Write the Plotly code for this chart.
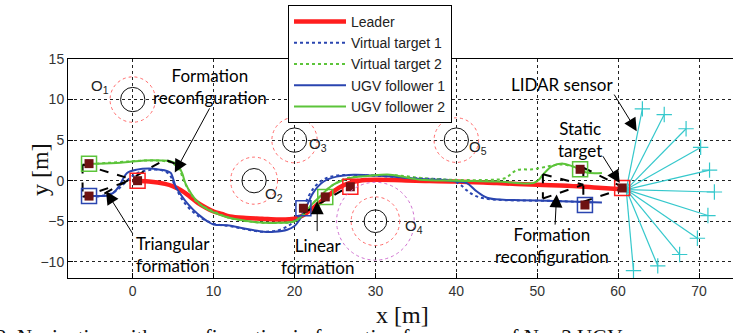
import plotly.graph_objects as go

# ---------------- data ----------------
leader_x = [0, 2, 4, 5, 6, 7, 8, 9, 10, 11, 12, 14, 16, 18, 20, 21, 22, 23, 24, 25, 26, 27, 28, 30, 35, 40, 45, 50, 55, 58, 61]
leader_y = [0, -0.1, -0.4, -0.7, -1.2, -1.9, -2.7, -3.3, -3.8, -4.1, -4.4, -4.6, -4.7, -4.8, -4.7, -4.3, -3.6, -2.8, -2.0, -1.2, -0.6, -0.2, 0.0, 0.1, 0.0, -0.1, -0.3, -0.5, -0.7, -0.9, -1.1]

vt1_x = [-6, -4, -2.5, -1.5, -0.5, 0.5, 2, 3.5, 4.5, 5.2, 6.3, 8, 10, 12, 14, 16, 18, 19.5, 20.5, 21.3, 22.3, 23.5, 25, 27, 30, 35, 39.5, 40.5, 41.3, 42.2, 43.5, 46, 52, 57]
vt1_y = [-2, -1.9, -1.5, -0.8, 0.2, 0.9, 1.3, 1.3, 0.8, -0.6, -2.6, -4.3, -5.3, -5.6, -6.0, -6.3, -6.1, -5.4, -4.4, -2.8, -1.0, 0.1, 0.6, 0.7, 0.6, 0.3, 0.0, -0.5, -1.2, -1.8, -2.2, -2.4, -2.5, -2.7]

vt2_x = [-6, -3, 0, 2, 4, 5, 5.8, 6.3, 7, 8, 10, 12, 15, 18, 20, 21.5, 23, 24.5, 26.5, 29, 32, 36, 40, 44, 46, 47.5, 49.5, 51.5, 53, 55, 57]
vt2_y = [2, 2.2, 2.4, 2.5, 2.4, 2.1, 1.3, 0.0, -1.3, -2.7, -3.8, -4.6, -5.1, -5.2, -5.0, -3.6, -2.1, -0.7, 0.3, 0.6, 0.7, 0.3, 0.1, 0.1, 0.3, 1.3, 1.4, 1.8, 2.0, 1.6, 1.1]

f1_x = [-5.4, -4.5, -3.2, -2.4, -1.7, -1.2, -0.7, 0.5, 2, 3.4, 4.2, 4.7, 5.3, 6.0, 6.7, 7.5, 8.4, 9.2, 10, 11.7, 13.3, 15, 16.2, 17.5, 19.1, 20, 20.5, 21.3, 22.3, 23.6, 25.2, 27.3, 29.3, 32, 35.5, 38, 40, 41.3, 42.5, 43.8, 45.8, 48, 52, 55, 58]
f1_y = [-1.9, -1.9, -1.85, -1.5, -0.7, 0.2, 0.95, 1.36, 1.5, 1.36, 1.2, 0.95, -0.7, -1.8, -2.75, -3.6, -4.4, -5.0, -5.4, -5.5, -5.8, -6.1, -6.3, -6.3, -6.05, -5.6, -5.0, -3.6, -1.5, -0.1, 0.5, 0.74, 0.65, 0.5, 0.2, 0.1, -0.1, -0.3, -1.3, -2.1, -2.35, -2.4, -2.5, -2.6, -2.7]

f2_x = [-5.4, -4.4, -1.5, 1.4, 3.5, 4.65, 5.5, 6.1, 6.5, 7.3, 8.4, 10, 11.7, 13, 15, 18, 20, 21, 21.9, 23.2, 24.8, 26.9, 29.3, 31.8, 35.5, 40, 45, 49.5, 50.2, 50.7, 51.8, 53.2, 54.9, 56.1, 58]
f2_y = [2.1, 2.1, 2.2, 2.5, 2.5, 2.4, 2.0, 0.95, -0.3, -1.7, -3.0, -3.9, -4.5, -4.8, -5.1, -5.2, -5.0, -4.3, -3.2, -1.9, -0.5, 0.33, 0.6, 0.74, 0.12, 0.0, -0.1, -0.3, 0.1, 0.74, 1.77, 2.1, 1.56, 1.0, 0.95]

# formation (dashed) segments
form_x = [-6.2, -6.2, None, -6.2, 0.5, None, -6.2, 0.5, None, -3.5, 4.0, 5.2, None,
          21.1, 26.9, None,
          50.7, 55.7, None, 50.7, 50.7, None, 50.7, 55.7, None,
          55.7, 55.7, None, 55.7, 60.8, None, 55.7, 60.8]
form_y = [2.0, -2.0, None, 2.0, 0.0, None, -2.0, 0.3, None, -1.6, 2.6, 2.1, None,
          -4.0, -0.6, None,
          0.8, -0.5, None, 0.8, -2.2, None, -2.2, -0.5, None,
          1.6, -2.6, None, 1.6, -0.9, None, -2.6, -0.9]

# robots
robot_x = [0.6, -5.4, -5.4, 26.9, 21.1, 23.8, 60.5, 55.9, 55.3]
robot_y = [0.0, -1.9, 2.1, -0.75, -3.4, -2.0, -0.9, -3.0, 1.4]
robot_kind = ["leader", "f1", "f2", "leader", "f1", "f2", "leader", "f1", "f2"]

# obstacles
obs_names = ["1", "2", "3", "4", "5"]
obs_x = [0, 15, 20, 30, 40]
obs_y = [10, 0, 5, -5, 5]
obs_r = [1.5, 1.5, 1.5, 1.4, 1.5]
obs_safe = [2.8, 2.9, 2.8, 3.0, 2.75]
obs_lab_x = [-4.0, 17.5, 22.9, 34.8, 42.7]
obs_lab_y = [11.6, -1.7, 4.4, -5.6, 4.1]
o4_outer = 4.8

# LIDAR
lidar_ox, lidar_oy = 61.0, -1.1
lidar_x = [63.0, 65.7, 68.4, 70.2, 71.3, 71.9, 71.1, 69.8, 67.6, 64.9, 61.9]
lidar_y = [8.85, 8.15, 6.4, 4.1, 1.3, -1.4, -4.3, -7.1, -9.1, -10.5, -11.1]

x_ticks = [0, 10, 20, 30, 40, 50, 60, 70]
y_ticks = [-10, -5, 0, 5, 10, 15]

RED = "#FF1E1E"
BLUE = "#2A45B0"
GREEN = "#5CC43A"
CYAN = "#35C8CC"
DARKRED = "#6E1212"

fig = go.Figure()

# obstacles
for cx, cy, r, rs in zip(obs_x, obs_y, obs_r, obs_safe):
    fig.add_shape(type="circle", xref="x", yref="y", x0=cx - rs, x1=cx + rs, y0=cy - rs, y1=cy + rs,
                  line=dict(color="#FF6A6A", width=1, dash="dot"))
    fig.add_shape(type="circle", xref="x", yref="y", x0=cx - r, x1=cx + r, y0=cy - r, y1=cy + r,
                  line=dict(color="#111111", width=1))
fig.add_shape(type="circle", xref="x", yref="y", x0=obs_x[3] - o4_outer, x1=obs_x[3] + o4_outer,
              y0=obs_y[3] - o4_outer, y1=obs_y[3] + o4_outer,
              line=dict(color="#D070D0", width=1, dash="dot"))

# LIDAR rays
ray_x, ray_y = [], []
for lx, ly in zip(lidar_x, lidar_y):
    ray_x += [lidar_ox, lx, None]
    ray_y += [lidar_oy, ly, None]
fig.add_trace(go.Scatter(x=ray_x, y=ray_y, mode="lines", line=dict(color=CYAN, width=1.2),
                         showlegend=False, hoverinfo="skip"))
fig.add_trace(go.Scatter(x=lidar_x, y=lidar_y, mode="markers",
                         marker=dict(symbol="cross-thin-open", size=11, color=CYAN,
                                     line=dict(color=CYAN, width=1.2)),
                         showlegend=False, hoverinfo="skip"))

# trajectories
fig.add_trace(go.Scatter(x=leader_x, y=leader_y, mode="lines", name="Leader",
                         line=dict(color=RED, width=4.5, shape="spline")))
fig.add_trace(go.Scatter(x=vt1_x, y=vt1_y, mode="lines", name="Virtual target 1",
                         line=dict(color=BLUE, width=2, dash="dot", shape="spline")))
fig.add_trace(go.Scatter(x=vt2_x, y=vt2_y, mode="lines", name="Virtual target 2",
                         line=dict(color=GREEN, width=2, dash="dot", shape="spline")))
fig.add_trace(go.Scatter(x=f1_x, y=f1_y, mode="lines", name="UGV follower 1",
                         line=dict(color=BLUE, width=2, shape="spline")))
fig.add_trace(go.Scatter(x=f2_x, y=f2_y, mode="lines", name="UGV follower 2",
                         line=dict(color=GREEN, width=2, shape="spline")))

# formation dashed lines
fig.add_trace(go.Scatter(x=form_x, y=form_y, mode="lines", line=dict(color="black", width=2, dash="dash"),
                         showlegend=False, hoverinfo="skip"))

# robots
kind_color = {"leader": RED, "f1": BLUE, "f2": GREEN}
fig.add_trace(go.Scatter(x=robot_x, y=robot_y, mode="markers",
                         marker=dict(symbol="square-open", size=15,
                                     color=[kind_color[k] for k in robot_kind],
                                     line=dict(width=1.5)),
                         showlegend=False, hoverinfo="skip"))
fig.add_trace(go.Scatter(x=robot_x, y=robot_y, mode="markers",
                         marker=dict(symbol="square", size=9, color=DARKRED),
                         showlegend=False, hoverinfo="skip"))

# obstacle labels
for n, lx, ly in zip(obs_names, obs_lab_x, obs_lab_y):
    fig.add_annotation(x=lx, y=ly, xref="x", yref="y", text="O<sub>" + n + "</sub>", showarrow=False,
                       font=dict(family="Liberation Sans, Arial", size=15, color="#222"))

TF = dict(family="Lato, Open Sans, sans-serif", size=17, color="black")
texts = [
    ("Formation<br>reconfiguration", 9.5, 11.6),
    ("Triangular<br>formation", 5.0, -9.1),
    ("Linear<br>formation", 22.8, -9.3),
    ("Formation<br>reconfiguration", 51.8, -8.0),
    ("Static<br>target", 55.3, 5.1),
    ("LIDAR sensor", 53.1, 11.85),
]
for t, tx, ty in texts:
    fig.add_annotation(x=tx, y=ty, xref="x", yref="y", text=t, showarrow=False, font=TF)

arrows = [  # tail x, tail y, head x, head y
    (9.6, 9.1, 5.2, 1.0),
    (0.1, -6.7, -3.3, -1.3),
    (22.8, -6.4, 22.8, -2.55),
    (52.2, -5.6, 52.4, -1.7),
    (58.0, 3.2, 60.2, -0.3),
    (59.4, 10.8, 62.3, 6.1),
]
for axx, ayy, hx, hy in arrows:
    fig.add_annotation(x=hx, y=hy, ax=axx, ay=ayy, xref="x", yref="y", axref="x", ayref="y",
                       text="", showarrow=True, arrowhead=2, arrowsize=2.6, arrowwidth=1,
                       arrowcolor="black")

plot_h = 333 - 59 - 55
# axis titles
fig.add_annotation(x=(402 - 68) / 665, y=(278 - 315) / plot_h, xref="paper", yref="paper", text="x [m]",
                   showarrow=False, yanchor="middle",
                   font=dict(family="Liberation Serif, Times New Roman", size=24, color="#111"))
fig.add_annotation(x=(25 - 68) / 665, y=(278 - 170) / plot_h, xref="paper", yref="paper", text="y [m]",
                   showarrow=False, textangle=-90,
                   font=dict(family="Liberation Serif, Times New Roman", size=24, color="#111"))
# caption (cut off at the bottom edge, as in the reference)
fig.add_annotation(x=(-6 - 68) / 665, y=(278 - 337) / plot_h, xref="paper", yref="paper",
                   xanchor="left", yanchor="middle",
                   text="2. Navigation with reconfiguration in formation for a group of N = 3 UGVs",
                   showarrow=False, font=dict(family="Liberation Serif, Times New Roman", size=21, color="#111"))

axis_common = dict(showgrid=True, gridcolor="#222", griddash="dot", gridwidth=1, zeroline=False,
                   showline=True, linecolor="black", linewidth=1, ticks="inside", ticklen=5,
                   tickcolor="black", tickfont=dict(family="Liberation Sans, Arial", size=14, color="#333"))
fig.update_xaxes(range=[-8, 74.2], tickvals=x_ticks, mirror=True, **axis_common)
fig.update_yaxes(range=[-12, 15], tickvals=y_ticks, mirror=False, **axis_common)

fig.update_layout(
    width=733, height=333,
    margin=dict(l=68, r=0, t=59, b=55, autoexpand=False),
    paper_bgcolor="white", plot_bgcolor="white",
    legend=dict(x=288 / 733, y=1 - 5 / 333, xref="container", yref="container",
                xanchor="left", yanchor="top", bgcolor="white",
                bordercolor="black", borderwidth=1, itemwidth=52,
                font=dict(family="Liberation Sans, Arial", size=14, color="#222"),
                tracegroupgap=0),
)

fig.write_html("out.html", post_script="document.body.style.margin='0px';",
               config={"displayModeBar": False})
